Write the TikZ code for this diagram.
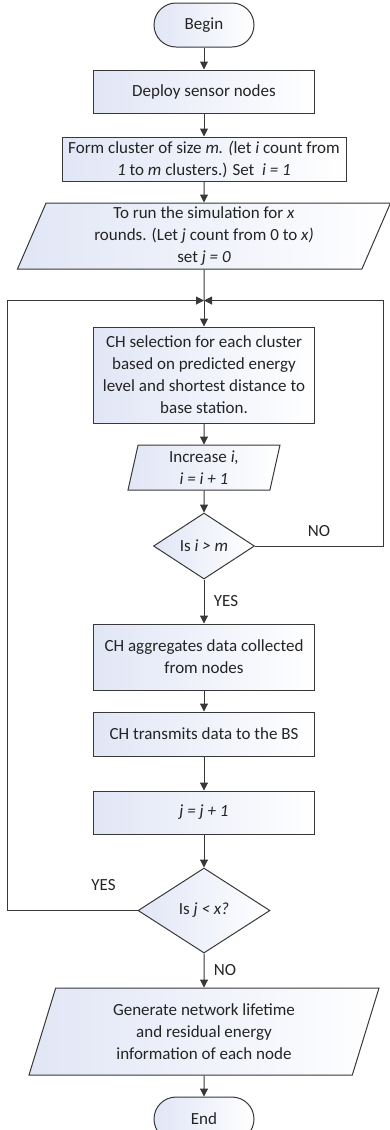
\documentclass[tikz,border=0pt]{standalone}
\usepackage{fontspec}
\setmainfont{Carlito}
\usetikzlibrary{positioning,shapes.geometric,arrows.meta}
\definecolor{ln}{HTML}{383838}
\definecolor{fillb}{HTML}{E1E6F6}
\definecolor{txt}{HTML}{242424}

\begin{document}
\begin{tikzpicture}[x=1pt,y=1pt,font=\fontsize{17}{22}\selectfont,text=txt,
  b/.style={draw=ln,line width=1pt,left color=fillb,right color=white,minimum width=221pt,minimum height=43pt,align=center,inner sep=2pt},
  term/.style={b,rounded corners=22pt,minimum width=100pt,minimum height=44pt},
  io/.style={b,trapezium,trapezium stretches body},
  dec/.style={b,diamond,inner sep=0pt},
  ar/.style={draw=ln,line width=1pt,-{Triangle[length=8pt,width=8pt]}}]
  \useasboundingbox (0,0) rectangle (389,-1130);
  \node[term] (begin) at (204,-25) {Begin};
  \node[b,below=22pt of begin] (deploy) {Deploy sensor nodes};
  \node[b,below=23pt of deploy,minimum width=284pt,minimum height=44pt] (form) {Form cluster of size \textit{m. (}let \textit{i} count from\\\textit{1} to \textit{m} clusters.) Set~ \textit{i = 1}};
  \node[io,below=21pt of form,minimum width=373pt,minimum height=66pt,trapezium left angle=65.5,trapezium right angle=114.5] (run) {To run the simulation for \textit{x}\\rounds. (Let \textit{j} count from 0 to \textit{x)}\\set \textit{j = 0}};
  \coordinate[below=31pt of run] (merge);
  \node[b,below=57pt of run,minimum height=96pt] (sel) {CH selection for each cluster\\based on predicted energy\\level and shortest distance to\\base station.};
  \node[io,below=21pt of sel,minimum width=152pt,minimum height=45pt,trapezium left angle=75,trapezium right angle=105] (incr) {Increase \textit{i,}\\\textit{i = i + 1}};
  \node[dec,below=22pt of incr,minimum width=101pt,minimum height=66pt] (ismore) {Is \textit{i > m}};
  \node[b,below=44pt of ismore,minimum height=66pt] (agg) {CH aggregates data collected\\from nodes};
  \node[b,below=21pt of agg,minimum height=44pt] (send) {CH transmits data to the BS};
  \node[b,below=34pt of send] (jinc) {\textit{j = j + 1}};
  \node[dec,below=33pt of jinc,minimum width=132pt,minimum height=85pt] (isless) {Is \textit{j < x?}};
  \node[io,below=34pt of isless,minimum width=350pt,minimum height=87pt,trapezium left angle=66,trapezium right angle=114] (gen) {Generate network lifetime\\and residual energy\\information of each node};
  \node[term,below=21pt of gen] (stop) {End};
  \draw[ar](begin)--(deploy);\draw[ar](deploy)--(form);\draw[ar](form)--(run);
  \draw[draw=ln,line width=1pt](run)--(merge);\draw[ar](merge)--(sel);
  \draw[ar](sel)--(incr);\draw[ar](incr)--(ismore);
  \draw[ar](ismore.east)-|node[pos=0.25,above=6pt]{NO}([xshift=179pt]merge)--(merge);
  \draw[ar](ismore)--node[right=6pt]{YES}(agg);
  \draw[ar](agg)--(send);\draw[ar](send)--(jinc);\draw[ar](jinc)--(isless);
  \draw[ar](isless.west)-|node[pos=0.13,above=16pt]{YES}([xshift=-197pt]merge)--(merge);
  \draw[ar](isless)--node[right=6pt]{NO}(gen);\draw[ar](gen)--(stop);
\end{tikzpicture}
\end{document}
